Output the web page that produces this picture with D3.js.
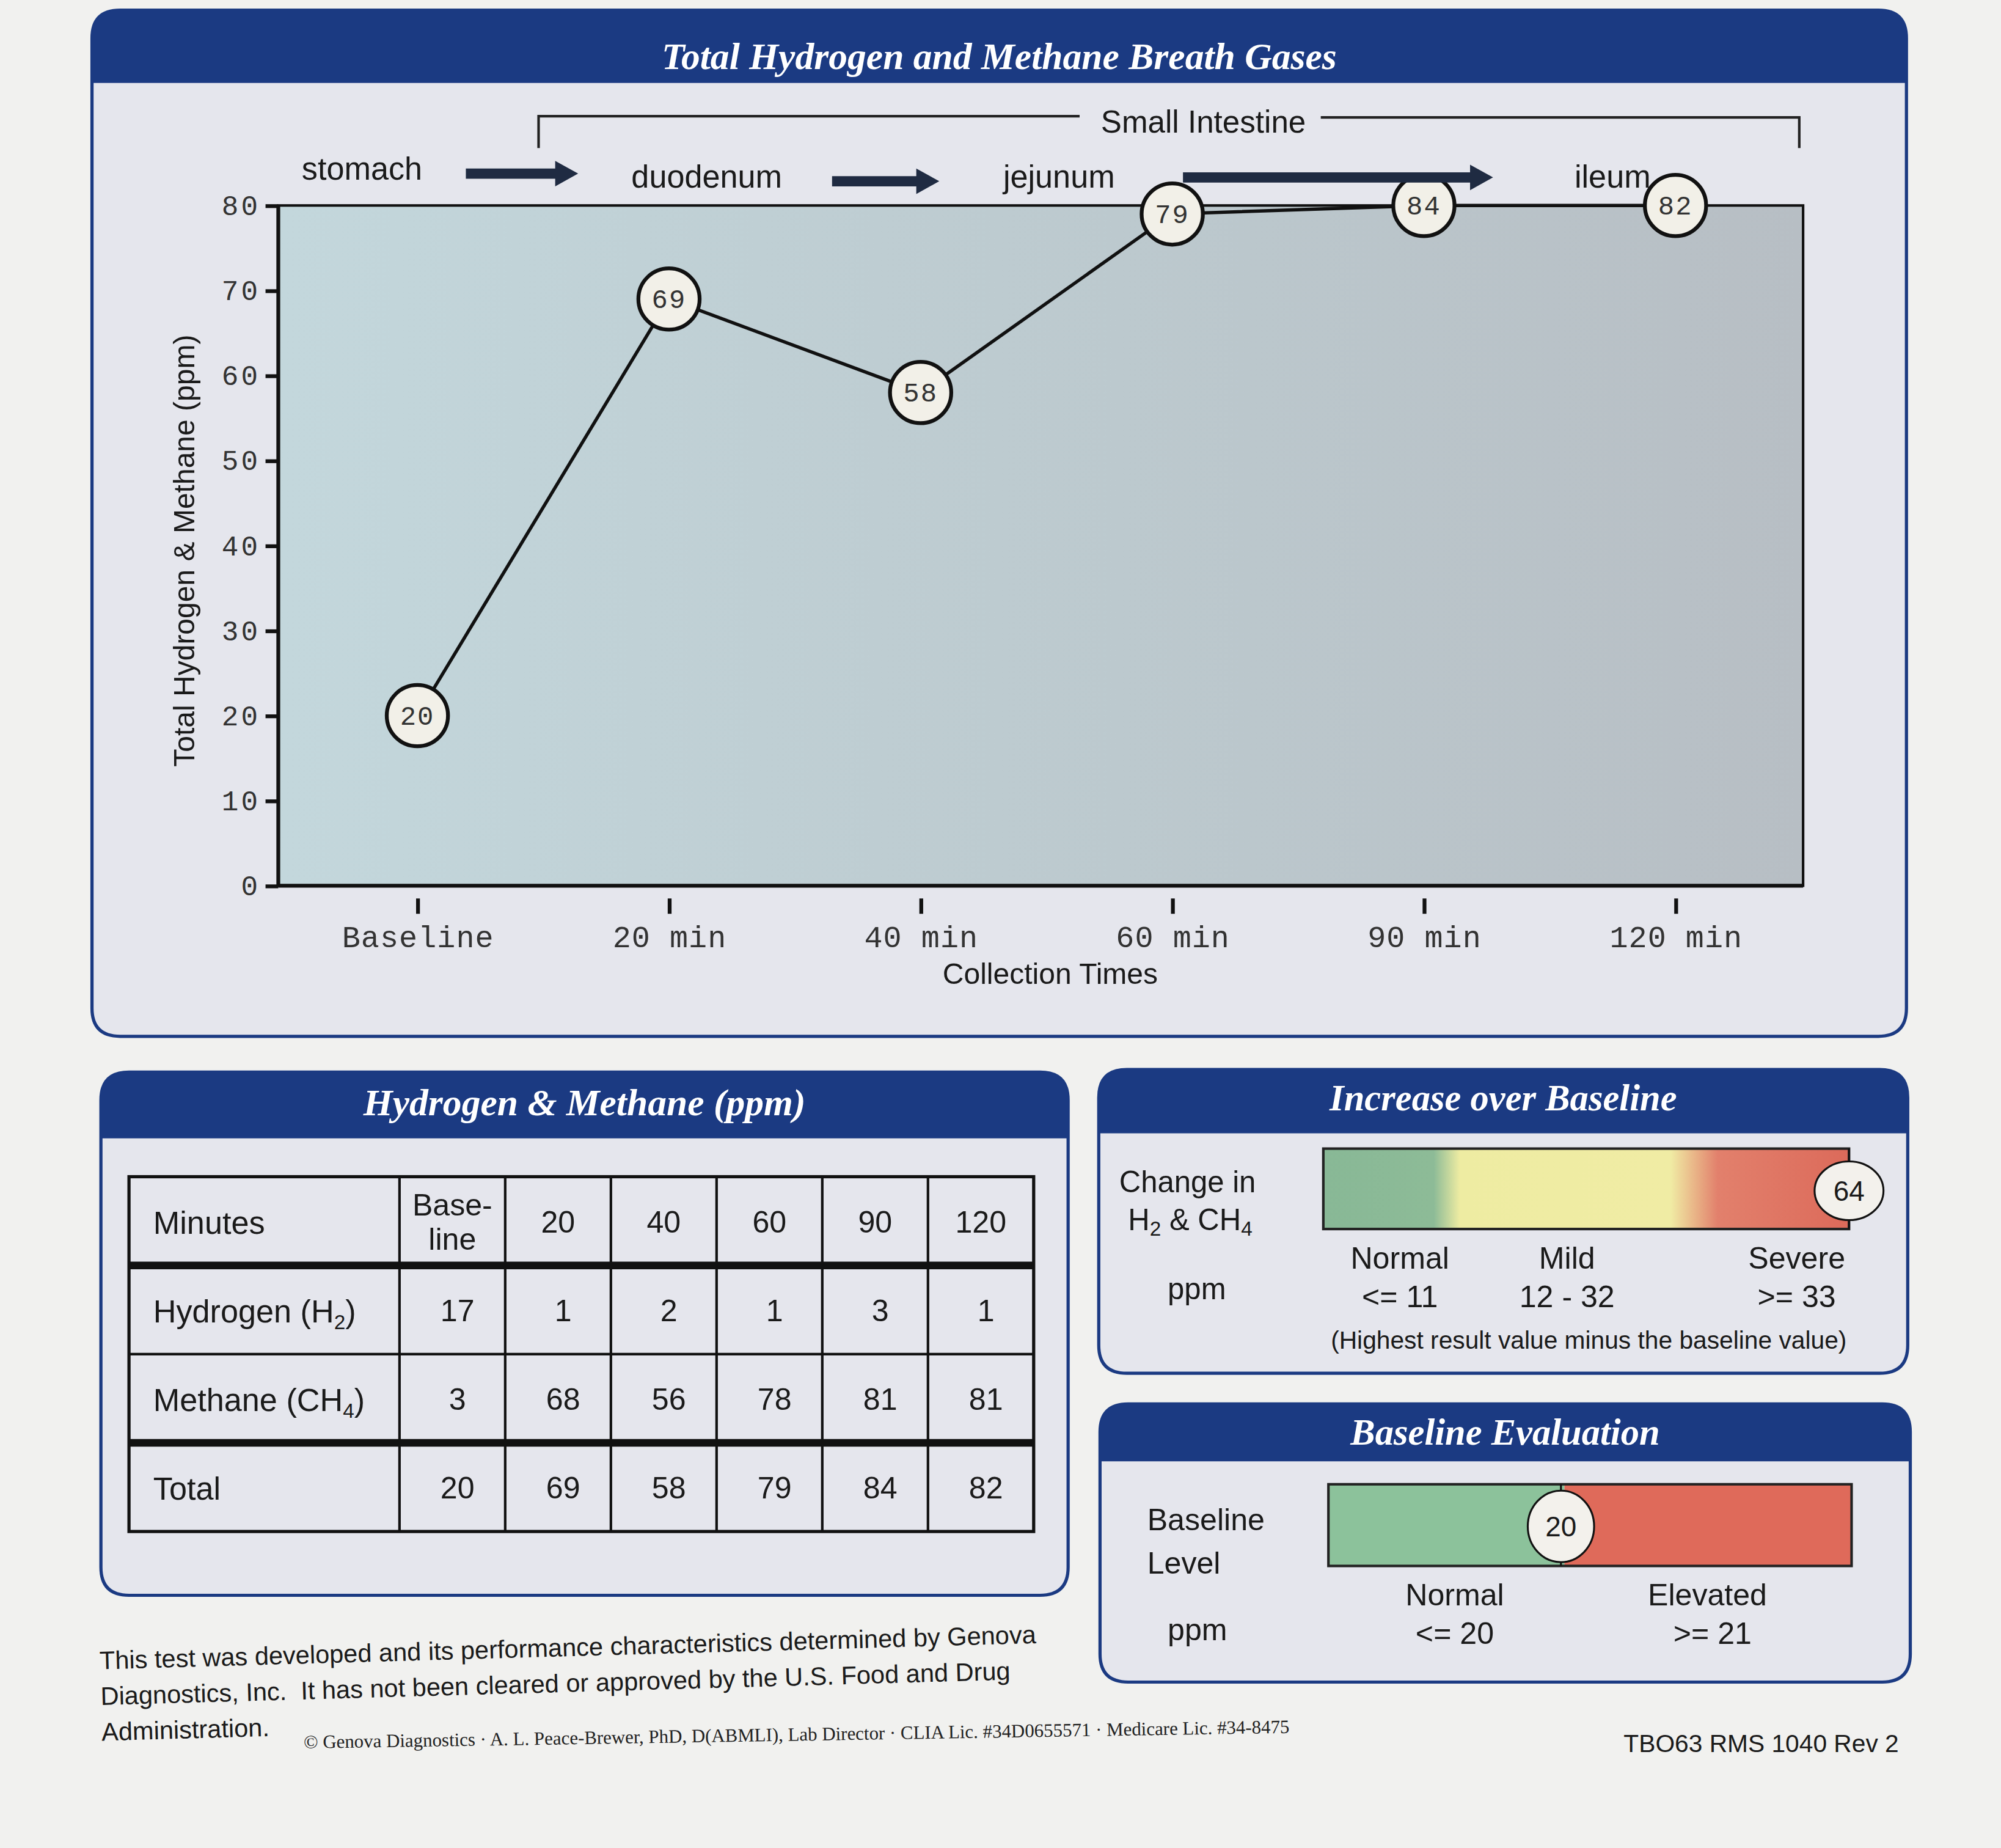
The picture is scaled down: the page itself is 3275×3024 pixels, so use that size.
<!DOCTYPE html>
<html lang="en">
<head>
    <meta charset="UTF-8">
    <script src="https://d3js.org/d3.v7.min.js"></script>
    <title>Total Hydrogen and Methane Breath Gases</title>
    <style>
        body {
            margin: 0;
            background-color: #f1f1ef;
        }
        svg { display: block; }
        .sans { font-family: 'Liberation Sans', Arial, sans-serif; fill: #1a1a1a; }
        .mono { font-family: 'Liberation Mono', 'Courier New', monospace; fill: #333; }
        .head { font-family: 'Liberation Serif', 'Times New Roman', serif; font-weight: bold; font-style: italic; fill: #ffffff; }
        .axis path { display: none; }
        .axis line { stroke: #111; stroke-width: 3px; }
    </style>
</head>
<body>
    <svg id="chart" width="3275" height="3024" viewBox="0 0 1568 1448"></svg>
    <script>
        // Data
        const times = ["Baseline", "20 min", "40 min", "60 min", "90 min", "120 min"];
        const minuteCols = ["Base-|line", "20", "40", "60", "90", "120"];
        const hydrogen = [17, 1, 2, 1, 3, 1];
        const methane = [3, 68, 56, 78, 81, 81];
        const total = [20, 69, 58, 79, 84, 82];
        const yTicks = [0, 10, 20, 30, 40, 50, 60, 70, 80];
        const regions = ["stomach", "duodenum", "jejunum", "ileum"];

        const increase = 64;
        const increaseCats = ["Normal", "Mild", "Severe"];
        const increaseRanges = ["<= 11", "12 - 32", ">= 33"];
        const baseline = 20;
        const baselineCats = ["Normal", "Elevated"];
        const baselineRanges = ["<= 20", ">= 21"];

        const navy = "#1b3a82";
        const panelFill = "#e5e6ed";

        const svg = d3.select("#chart");
        svg.append("rect").attr("width", 1568).attr("height", 1448).attr("fill", "#f1f1ef");

        const defs = svg.append("defs");

        // plot background gradient (photo is lighter/bluer on the left)
        const plotGrad = defs.append("linearGradient").attr("id", "plot-grad")
            .attr("x1", "0%").attr("x2", "100%").attr("y1", "0%").attr("y2", "0%");
        plotGrad.append("stop").attr("offset", "0%").attr("stop-color", "#c3d7dc");
        plotGrad.append("stop").attr("offset", "55%").attr("stop-color", "#bcc9ce");
        plotGrad.append("stop").attr("offset", "100%").attr("stop-color", "#b7bec4");

        const incGrad = defs.append("linearGradient").attr("id", "inc-grad")
            .attr("x1", "0%").attr("x2", "100%");
        [["0%", "#88b896"], ["21%", "#8dbb97"], ["26%", "#eeeca2"], ["66%", "#f0eca4"], ["75%", "#e2806c"], ["100%", "#dc6a5a"]]
            .forEach(s => incGrad.append("stop").attr("offset", s[0]).attr("stop-color", s[1]));

        // panel with navy header band
        function panel(x, y, w, h, hh, title, fs, ty) {
            const r = 22;
            const g = svg.append("g");
            const outline = `M${x},${y + r} Q${x},${y} ${x + r},${y} H${x + w - r} Q${x + w},${y} ${x + w},${y + r}
                V${y + h - r} Q${x + w},${y + h} ${x + w - r},${y + h} H${x + r} Q${x},${y + h} ${x},${y + h - r} Z`;
            g.append("path").attr("d", outline).attr("fill", panelFill).attr("stroke", navy).attr("stroke-width", 2.5);
            g.append("path")
                .attr("d", `M${x},${y + hh} V${y + r} Q${x},${y} ${x + r},${y} H${x + w - r} Q${x + w},${y} ${x + w},${y + r} V${y + hh} Z`)
                .attr("fill", navy);
            g.append("text").attr("class", "head")
                .attr("x", x + w / 2).attr("y", ty)
                .attr("text-anchor", "middle").attr("font-size", fs)
                .text(title);
            return g;
        }

        // ---------- main chart ----------
        panel(72, 8, 1422, 804, 57, "Total Hydrogen and Methane Breath Gases", 29.5, 54);

        const plot = { left: 218, right: 1413, top: 161, bottom: 694 };
        const x = d3.scalePoint().domain(times).range([327, 1313]);
        const y = d3.scaleLinear().domain([0, 80]).range([plot.bottom, plot.top]).clamp(true);

        svg.append("rect")
            .attr("x", plot.left).attr("y", y(80))
            .attr("width", plot.right - plot.left).attr("height", y(0) - y(80))
            .attr("fill", "url(#plot-grad)").attr("stroke", "#111").attr("stroke-width", 2);
        svg.append("line").attr("x1", plot.left).attr("x2", plot.right)
            .attr("y1", y(0)).attr("y2", y(0)).attr("stroke", "#111").attr("stroke-width", 3);
        svg.append("line").attr("x1", plot.left).attr("x2", plot.left)
            .attr("y1", y(0)).attr("y2", y(80)).attr("stroke", "#111").attr("stroke-width", 3);

        // y axis
        const yAxis = svg.append("g").attr("class", "axis")
            .attr("transform", `translate(${plot.left},0)`)
            .call(d3.axisLeft(y).tickValues(yTicks).tickSize(10).tickPadding(4));
        yAxis.selectAll("text").attr("class", "mono").attr("font-size", 22).attr("letter-spacing", 2);

        svg.append("text").attr("class", "sans")
            .attr("transform", `translate(152,${(plot.top + plot.bottom) / 2 + 4}) rotate(-90)`)
            .attr("text-anchor", "middle").attr("font-size", 23)
            .text("Total Hydrogen & Methane (ppm)");

        // x axis: detached tick marks below the plot
        const xAxis = svg.append("g").attr("class", "axis")
            .attr("transform", `translate(0,${plot.bottom + 10})`)
            .call(d3.axisBottom(x).tickSizeInner(0).tickSizeOuter(0).tickPadding(21));
        xAxis.selectAll(".tick line").attr("y1", 0).attr("y2", 12);
        xAxis.selectAll("text").attr("class", "mono").attr("font-size", 24).attr("letter-spacing", 0.5);

        svg.append("text").attr("class", "sans")
            .attr("x", 823).attr("y", 771).attr("text-anchor", "middle").attr("font-size", 23)
            .text("Collection Times");

        // line + labelled markers
        const pts = times.map((t, i) => ({ t, v: total[i] }));
        svg.append("path").datum(pts)
            .attr("fill", "none").attr("stroke", "#111").attr("stroke-width", 2.6)
            .attr("d", d3.line().x(d => x(d.t)).y(d => y(d.v)));
        const mk = svg.selectAll(".pt").data(pts).enter().append("g")
            .attr("transform", d => `translate(${x(d.t)},${y(d.v)})`);
        mk.append("circle").attr("r", 24).attr("fill", "#f2f0e8").attr("stroke", "#111").attr("stroke-width", 3);
        mk.append("text").attr("class", "mono").attr("text-anchor", "middle").attr("y", 7)
            .attr("font-size", 21).attr("letter-spacing", 1).text(d => d.v);

        // anatomy labels above the plot
        const regionPos = [-0.22, 1.15, 2.55, 4.75];
        const step = x.step();
        regions.forEach((r, i) => {
            svg.append("text").attr("class", "sans")
                .attr("x", x(times[0]) + regionPos[i] * step).attr("y", 141 + (i > 0 ? 6 : 0))
                .attr("text-anchor", "middle").attr("font-size", 25).text(r);
        });
        function arrow(x1, x2, yy) {
            svg.append("path")
                .attr("d", `M${x1},${yy - 4} H${x2 - 18} V${yy - 10} L${x2},${yy} L${x2 - 18},${yy + 10} V${yy + 4} H${x1} Z`)
                .attr("fill", "#1f2b42");
        }
        arrow(365, 453, 136);
        arrow(652, 736, 142);
        arrow(927, 1170, 139);

        // small intestine bracket
        svg.append("path")
            .attr("d", "M422,116 V91 H846 M1035,92 H1410 V116")
            .attr("fill", "none").attr("stroke", "#222").attr("stroke-width", 2);
        svg.append("text").attr("class", "sans").attr("x", 943).attr("y", 104)
            .attr("text-anchor", "middle").attr("font-size", 24.5).text("Small Intestine");

        // ---------- table panel ----------
        panel(79, 840, 758, 410, 52, "Hydrogen & Methane (ppm)", 29.5, 874);

        const rowNames = ["Minutes", "Hydrogen", "Methane", "Total"];
        const col = d3.scaleBand().domain(times).range([313, 810]);
        const row = d3.scaleBand().domain(rowNames).range([922, 1200]);
        const tLeft = 101, tRight = 810;
        const tbl = svg.append("g");
        tbl.append("rect").attr("x", tLeft).attr("y", row.range()[0])
            .attr("width", tRight - tLeft).attr("height", row.range()[1] - row.range()[0])
            .attr("fill", "none").attr("stroke", "#111").attr("stroke-width", 2.5);
        times.forEach(t => {
            tbl.append("line").attr("x1", col(t)).attr("x2", col(t))
                .attr("y1", row.range()[0]).attr("y2", row.range()[1])
                .attr("stroke", "#111").attr("stroke-width", 2);
        });
        rowNames.slice(1).forEach((r, i) => {
            tbl.append("line").attr("x1", tLeft).attr("x2", tRight)
                .attr("y1", row(r)).attr("y2", row(r))
                .attr("stroke", "#111").attr("stroke-width", i === 1 ? 2 : 6);
        });

        function rowLabel(r, main, sub, tail) {
            const t = tbl.append("text").attr("class", "sans")
                .attr("x", 120).attr("y", row(r) + row.bandwidth() / 2 + 10).attr("font-size", 25);
            t.append("tspan").text(main);
            if (sub) {
                t.append("tspan").attr("font-size", 16).attr("dy", 5).text(sub);
                t.append("tspan").attr("dy", -5).text(tail);
            }
        }
        rowLabel("Minutes", "Minutes");
        rowLabel("Hydrogen", "Hydrogen (H", "2", ")");
        rowLabel("Methane", "Methane (CH", "4", ")");
        rowLabel("Total", "Total");

        minuteCols.forEach((c, i) => {
            const parts = c.split("|");
            const cx = col(times[i]) + col.bandwidth() / 2;
            const cy = row("Minutes") + row.bandwidth() / 2;
            parts.forEach((p, j) => {
                tbl.append("text").attr("class", "sans").attr("text-anchor", "middle")
                    .attr("x", cx).attr("y", cy + 9 + (j - (parts.length - 1) / 2) * 27)
                    .attr("font-size", 24).text(p);
            });
        });
        [["Hydrogen", hydrogen], ["Methane", methane], ["Total", total]].forEach(([r, vals]) => {
            vals.forEach((v, i) => {
                tbl.append("text").attr("class", "sans").attr("text-anchor", "middle")
                    .attr("x", col(times[i]) + col.bandwidth() / 2 + 4)
                    .attr("y", row(r) + row.bandwidth() / 2 + 9)
                    .attr("font-size", 24).text(v);
            });
        });

        // ---------- increase over baseline ----------
        panel(861, 838, 634, 238, 50, "Increase over Baseline", 29, 870);
        const inc = d3.scaleLinear().domain([0, 64]).range([1037, 1449]).clamp(true);
        svg.append("rect").attr("x", inc.range()[0]).attr("y", 900)
            .attr("width", inc.range()[1] - inc.range()[0]).attr("height", 63)
            .attr("fill", "url(#inc-grad)").attr("stroke", "#222").attr("stroke-width", 2);
        svg.append("line").attr("x1", inc(increase)).attr("x2", inc(increase))
            .attr("y1", 900).attr("y2", 963).attr("stroke", "#111").attr("stroke-width", 1.5);
        svg.append("ellipse").attr("cx", inc(increase)).attr("cy", 933).attr("rx", 27).attr("ry", 23)
            .attr("fill", "#f3f1ec").attr("stroke", "#111").attr("stroke-width", 1.5);
        svg.append("text").attr("class", "sans").attr("x", inc(increase)).attr("y", 941)
            .attr("text-anchor", "middle").attr("font-size", 22).text(increase);

        svg.append("text").attr("class", "sans").attr("x", 877).attr("y", 934).attr("font-size", 23.5).text("Change in");
        const hc = svg.append("text").attr("class", "sans").attr("x", 884).attr("y", 964).attr("font-size", 23.5);
        hc.append("tspan").text("H");
        hc.append("tspan").attr("font-size", 16).attr("dy", 4).text("2");
        hc.append("tspan").attr("dy", -4).text(" & CH");
        hc.append("tspan").attr("font-size", 16).attr("dy", 4).text("4");
        svg.append("text").attr("class", "sans").attr("x", 915).attr("y", 1018).attr("font-size", 23.5).text("ppm");

        const incLabelX = [1097, 1228, 1408];
        increaseCats.forEach((c, i) => {
            svg.append("text").attr("class", "sans").attr("x", incLabelX[i]).attr("y", 994)
                .attr("text-anchor", "middle").attr("font-size", 24).text(c);
            svg.append("text").attr("class", "sans").attr("x", incLabelX[i]).attr("y", 1024)
                .attr("text-anchor", "middle").attr("font-size", 24).text(increaseRanges[i]);
        });
        svg.append("text").attr("class", "sans").attr("x", 1245).attr("y", 1057)
            .attr("text-anchor", "middle").attr("font-size", 19.5)
            .text("(Highest result value minus the baseline value)");

        // ---------- baseline evaluation ----------
        panel(862, 1100, 635, 218, 45, "Baseline Evaluation", 29, 1132);
        const bl = d3.scaleLinear().domain([0, 45]).range([1041, 1451]);
        svg.append("rect").attr("x", bl(0)).attr("y", 1163).attr("width", bl(20.3) - bl(0)).attr("height", 64)
            .attr("fill", "#8cc29b");
        svg.append("rect").attr("x", bl(20.3)).attr("y", 1163).attr("width", bl(45) - bl(20.3)).attr("height", 64)
            .attr("fill", "#df6a5a");
        svg.append("rect").attr("x", bl(0)).attr("y", 1163).attr("width", bl(45) - bl(0)).attr("height", 64)
            .attr("fill", "none").attr("stroke", "#222").attr("stroke-width", 2);
        svg.append("line").attr("x1", bl(baseline)).attr("x2", bl(baseline))
            .attr("y1", 1163).attr("y2", 1227).attr("stroke", "#111").attr("stroke-width", 1.5);
        svg.append("ellipse").attr("cx", bl(baseline)).attr("cy", 1196).attr("rx", 26).attr("ry", 28)
            .attr("fill", "#f3f1ec").attr("stroke", "#111").attr("stroke-width", 1.5);
        svg.append("text").attr("class", "sans").attr("x", bl(baseline)).attr("y", 1204)
            .attr("text-anchor", "middle").attr("font-size", 22).text(baseline);

        svg.append("text").attr("class", "sans").attr("x", 899).attr("y", 1199).attr("font-size", 24).text("Baseline");
        svg.append("text").attr("class", "sans").attr("x", 899).attr("y", 1233).attr("font-size", 24).text("Level");
        svg.append("text").attr("class", "sans").attr("x", 915).attr("y", 1285).attr("font-size", 24).text("ppm");
        const blLabelX = [1140, 1338];
        baselineCats.forEach((c, i) => {
            svg.append("text").attr("class", "sans").attr("x", blLabelX[i]).attr("y", 1258)
                .attr("text-anchor", "middle").attr("font-size", 24).text(c);
            svg.append("text").attr("class", "sans").attr("x", blLabelX[i] + (i ? 4 : 0)).attr("y", 1288)
                .attr("text-anchor", "middle").attr("font-size", 24).text(baselineRanges[i]);
        });

        // ---------- footer ----------
        const foot = svg.append("g").attr("transform", "rotate(-1.6 78 1305)");
        ["This test was developed and its performance characteristics determined by Genova",
         "Diagnostics, Inc.  It has not been cleared or approved by the U.S. Food and Drug",
         "Administration."].forEach((l, i) => {
            foot.append("text").attr("class", "sans").attr("x", 78).attr("y", 1308 + i * 28)
                .attr("font-size", 19.9).attr("xml:space", "preserve").text(l);
        });
        svg.append("text")
            .attr("transform", "rotate(-0.9 238 1370)")
            .attr("x", 238).attr("y", 1370)
            .attr("font-family", "'Liberation Serif', 'Times New Roman', serif").attr("font-size", 14.8).attr("fill", "#222")
            .text("© Genova Diagnostics · A. L. Peace-Brewer, PhD, D(ABMLI), Lab Director · CLIA Lic. #34D0655571 · Medicare Lic. #34-8475");
        svg.append("text").attr("class", "sans").attr("x", 1488).attr("y", 1373)
            .attr("text-anchor", "end").attr("font-size", 19.5).text("TBO63 RMS 1040 Rev 2");
    </script>
</body>
</html>
